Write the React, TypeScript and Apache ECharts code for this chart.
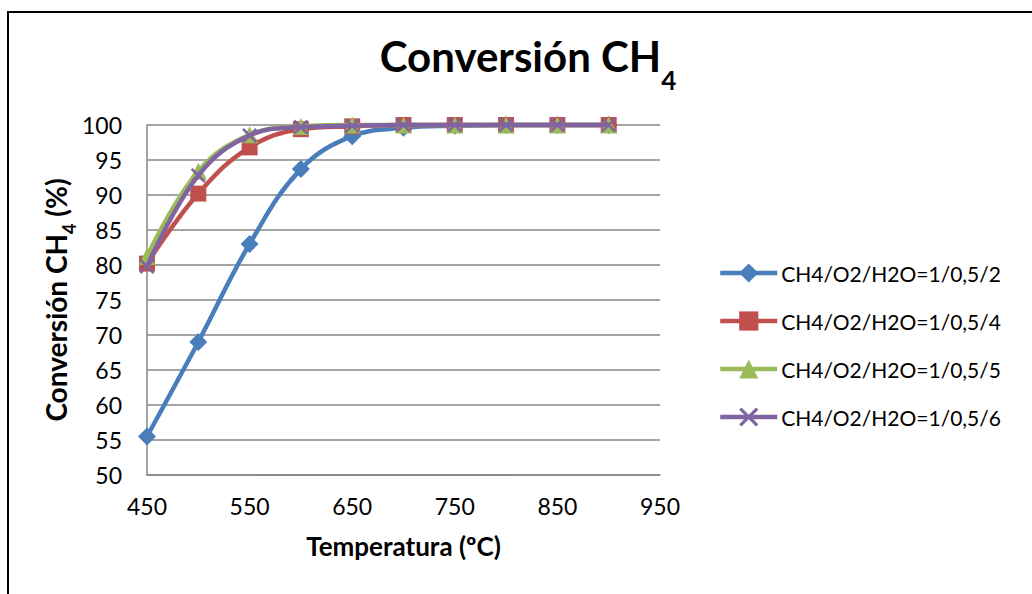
import React, { useEffect, useRef } from "react";
import * as echarts from "echarts";

const temperatures = [450, 500, 550, 600, 650, 700, 750, 800, 850, 900];
const ratio2 = [55.5, 69.0, 83.0, 93.7, 98.4, 99.6, 99.9, 100, 100, 100];
const ratio4 = [80.2, 90.2, 96.8, 99.4, 99.8, 100, 100, 100, 100, 100];
const ratio5 = [81.2, 93.4, 98.6, 99.8, 100, 100, 100, 100, 100, 100];
const ratio6 = [79.8, 92.8, 98.5, 99.7, 99.9, 100, 100, 100, 100, 100];
const seriesNames = [
  "CH4/O2/H2O=1/0,5/2",
  "CH4/O2/H2O=1/0,5/4",
  "CH4/O2/H2O=1/0,5/5",
  "CH4/O2/H2O=1/0,5/6",
];
const seriesColors = ["#4A7EBB", "#C0504D", "#9BBB59", "#8064A2"];
const seriesSymbols = [
  "diamond",
  "rect",
  "triangle",
  "path://M0,1.2L1.2,0L5,3.8L8.8,0L10,1.2L6.2,5L10,8.8L8.8,10L5,6.2L1.2,10L0,8.8L3.8,5Z",
];
const symbolSizes = [18, 16, 17, 15];

const FONT = "Lato";

export default function App() {
  const ref = useRef<HTMLDivElement>(null);
  useEffect(() => {
    if (!ref.current) return;
    const chart = echarts.init(ref.current, null, { renderer: "svg" });
    const allData = [ratio2, ratio4, ratio5, ratio6];
    chart.setOption({
      animation: false,
      backgroundColor: "#ffffff",
      textStyle: { fontFamily: FONT, color: "#000" },
      title: {
        text: "Conversión CH{sub|4}",
        left: 523,
        top: 30,
        textAlign: "center",
        textStyle: {
          fontFamily: FONT,
          fontSize: 42,
          fontWeight: "bold",
          color: "#000",
          rich: {
            sub: {
              fontFamily: FONT,
              fontSize: 26,
              fontWeight: "bold",
              color: "#000",
              verticalAlign: "bottom",
              padding: [0, 0, -16, 0],
            },
          },
        },
      },
      graphic: [
        {
          type: "rect",
          shape: { x: 8, y: 12, width: 1200, height: 800 },
          style: { fill: "none", stroke: "#000", lineWidth: 2 },
          silent: true,
        },
      ],
      legend: {
        orient: "vertical",
        left: 718,
        top: 259,
        padding: 0,
        itemWidth: 57,
        itemHeight: 24,
        itemGap: 20,
        lineStyle: { width: 4.5 },
        textStyle: { fontFamily: FONT, fontSize: 21, color: "#000", lineHeight: 28, padding: [0, 0, 0, -1] },
        data: seriesNames,
      },
      grid: { left: 147, top: 125, width: 513, height: 350, containLabel: false },
      xAxis: {
        type: "value",
        min: 450,
        max: 950,
        interval: 100,
        name: "Temperatura (ºC)",
        nameLocation: "middle",
        nameGap: 58,
        nameTextStyle: { fontFamily: FONT, fontSize: 26, fontWeight: "bold", color: "#000" },
        axisLine: { lineStyle: { color: "#868686", width: 1.5 } },
        axisTick: { show: false },
        splitLine: { show: false },
        axisLabel: { fontFamily: FONT, fontSize: 23, color: "#000", margin: 19 },
      },
      yAxis: {
        type: "value",
        min: 50,
        max: 100,
        interval: 5,
        name: "Conversión CH{sub|4} (%)",
        nameLocation: "middle",
        nameGap: 65,
        nameTextStyle: {
          fontFamily: FONT,
          fontSize: 28,
          fontWeight: "bold",
          color: "#000",
          rich: {
            sub: {
              fontFamily: FONT,
              fontSize: 18,
              fontWeight: "bold",
              color: "#000",
              verticalAlign: "bottom",
              padding: [0, 0, -8, 0],
            },
          },
        },
        axisLine: { show: true, lineStyle: { color: "#868686", width: 1.5 } },
        axisTick: { show: false },
        splitLine: { lineStyle: { color: "#868686", width: 1.5 } },
        axisLabel: { fontFamily: FONT, fontSize: 23, color: "#000", margin: 25 },
      },
      series: seriesNames.map((name, i) => ({
        name,
        type: "line",
        smooth: 0.4,
        clip: false,
        data: temperatures.map((t, j) => [t, allData[i][j]]),
        symbol: seriesSymbols[i],
        symbolSize: symbolSizes[i],
        lineStyle: { color: seriesColors[i], width: 4.5 },
        itemStyle: { color: seriesColors[i] },
        z: 2 + i,
      })),
    });
    return () => chart.dispose();
  }, []);
  return (
    <div
      ref={ref}
      style={{ position: "absolute", left: 0, top: 0, width: 1032, height: 594 }}
    />
  );
}
